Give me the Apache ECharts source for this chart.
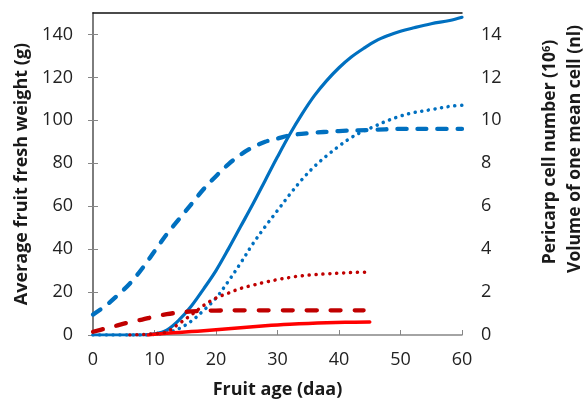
<!DOCTYPE html>
<html>
<head>
<meta charset="utf-8">
<script src="https://cdn.jsdelivr.net/npm/echarts@6/dist/echarts.min.js"></script>
<style>
html,body{margin:0;padding:0;background:#fff;}
#chart{width:588px;height:405px;}
</style>
</head>
<body>
<div id="chart"></div>
<script>
// X axis ticks
var xTicks = [0, 10, 20, 30, 40, 50, 60];
var leftTicks = [0, 20, 40, 60, 80, 100, 120, 140];
var rightTicks = [0, 2, 4, 6, 8, 10, 12, 14];

// Blue fruit weight (g, left axis)
var blueWeightDays = [0, 8, 10, 12, 14, 16, 18, 20, 22, 24, 26, 28, 30, 32, 34, 36, 38, 40, 42, 44, 46, 48, 50, 52, 55, 58, 60];
var blueWeight = [0, 0, 0.5, 2.3, 7, 13.5, 21.5, 30, 40, 50.5, 61, 72, 83, 93.5, 103, 111.5, 118.5, 124.5, 129.5, 133.5, 137, 139.5, 141.5, 143, 145, 146.5, 148];

// Blue cell number (10^6, right axis)
var blueCellNumDays = [0, 2, 4, 6, 8, 10, 12, 14, 16, 18, 20, 22, 24, 26, 28, 30, 32, 35, 40, 45, 50, 55, 60];
var blueCellNum = [0.95, 1.35, 1.85, 2.4, 3.1, 3.9, 4.7, 5.4, 6.1, 6.8, 7.4, 7.95, 8.4, 8.75, 9.0, 9.15, 9.3, 9.4, 9.5, 9.55, 9.6, 9.6, 9.6];

// Blue cell volume (nl, right axis)
var blueCellVolDays = [0, 6, 8, 10, 12, 14, 16, 18, 20, 22, 24, 26, 28, 30, 32, 34, 36, 38, 40, 42, 44, 46, 48, 50, 52, 55, 58, 60];
var blueCellVol = [0, 0, 0, 0.03, 0.1, 0.3, 0.65, 1.15, 1.72, 2.5, 3.35, 4.25, 5.05, 5.8, 6.55, 7.25, 7.85, 8.35, 8.8, 9.2, 9.5, 9.75, 10.0, 10.2, 10.35, 10.5, 10.65, 10.7];

// Red fruit weight (g, left axis)
var redWeightDays = [9, 10, 12, 14, 16, 18, 20, 22, 24, 26, 28, 30, 32, 35, 38, 41, 45];
var redWeight = [0, 0.3, 0.8, 1.2, 1.6, 2.0, 2.4, 2.9, 3.4, 3.8, 4.3, 4.7, 5.0, 5.4, 5.7, 5.9, 6.1];

// Red cell number (10^6, right axis)
var redCellNumDays = [0, 2, 4, 6, 8, 10, 12, 14, 16, 18, 20, 25, 30, 35, 40, 44];
var redCellNum = [0.15, 0.3, 0.45, 0.6, 0.72, 0.86, 0.97, 1.05, 1.1, 1.13, 1.14, 1.15, 1.15, 1.15, 1.15, 1.15];

// Red cell volume (nl, right axis)
var redCellVolDays = [6, 8, 10, 12, 14, 16, 18, 20, 22, 24, 26, 28, 30, 32, 34, 36, 38, 40, 42, 45];
var redCellVol = [0, 0.02, 0.06, 0.15, 0.53, 0.94, 1.38, 1.72, 1.95, 2.17, 2.32, 2.46, 2.58, 2.68, 2.76, 2.81, 2.85, 2.88, 2.91, 2.93];

function pairs(xs, ys) { return xs.map(function (x, i) { return [x, ys[i]]; }); }

var BLUE = '#0070C0', RED = '#FF0000', DARKRED = '#C00000';
var FONT = 'Open Sans';

var chart = echarts.init(document.getElementById('chart'), null, { renderer: 'canvas' });

function line(name, data, yIdx, color, width, type, cap) {
  return {
    name: name, type: 'line', data: data, yAxisIndex: yIdx,
    showSymbol: false, smooth: 0.35,
    lineStyle: { color: color, width: width, type: type, cap: cap || 'round', join: 'round' },
    emphasis: { disabled: true }, animation: false
  };
}

chart.setOption({
  animation: false,
  backgroundColor: '#fff',
  grid: { left: 93, right: 126, top: 13, bottom: 70, containLabel: false },
  xAxis: [{
    type: 'value', min: 0, max: 60, interval: 10,
    name: 'Fruit age (daa)', nameLocation: 'middle', nameGap: 46,
    nameTextStyle: { fontFamily: FONT, fontWeight: 'bold', fontSize: 18, color: '#1a1a1a' },
    axisLine: { lineStyle: { color: '#868686', width: 1.5 } },
    axisTick: { inside: true, length: 5, lineStyle: { color: '#868686' } },
    axisLabel: { fontFamily: FONT, fontSize: 18, color: '#222', margin: 16,
      formatter: function (v) { return xTicks.indexOf(v) >= 0 ? String(v) : ''; } },
    splitLine: { show: false }
  }, {
    type: 'value', min: 0, max: 60, position: 'top',
    axisLine: { show: true, onZero: false, lineStyle: { color: '#111', width: 1.5 } },
    axisTick: { show: false }, axisLabel: { show: false }, splitLine: { show: false }
  }],
  yAxis: [{
    type: 'value', min: 0, max: 150, interval: 20, position: 'left',
    name: 'Average fruit fresh weight (g)', nameLocation: 'middle', nameGap: 61,
    nameTextStyle: { fontFamily: FONT, fontWeight: 'bold', fontSize: 18, color: '#1a1a1a' },
    axisLine: { show: true, lineStyle: { color: '#333', width: 1.5 } },
    axisTick: { inside: true, length: 5, lineStyle: { color: '#868686' } },
    axisLabel: { fontFamily: FONT, fontSize: 18, color: '#222', margin: 20, showMaxLabel: false,
      formatter: function (v) { return leftTicks.indexOf(v) >= 0 ? String(v) : ''; } },
    splitLine: { show: false }
  }, {
    type: 'value', min: 0, max: 15, interval: 2, position: 'right',
    axisLine: { show: true, lineStyle: { color: '#868686', width: 1.5 } },
    axisTick: { inside: true, length: 5, lineStyle: { color: '#868686' } },
    axisLabel: { fontFamily: FONT, fontSize: 18, color: '#222', margin: 19, showMaxLabel: false,
      formatter: function (v) { return rightTicks.indexOf(v) >= 0 ? String(v) : ''; } },
    splitLine: { show: false }
  }],
  graphic: [{
    type: 'text', x: 550, y: 152, rotation: Math.PI / 2,
    style: {
      text: 'Pericarp cell number (10{sup|6})',
      font: 'bold 17.5px "Open Sans"', fill: '#1a1a1a',
      align: 'center', verticalAlign: 'middle', textAlign: 'center', textVerticalAlign: 'middle',
      rich: { sup: { font: 'bold 11px "Open Sans"', fill: '#1a1a1a', verticalAlign: 'top', lineHeight: 12 } }
    }
  }, {
    type: 'text', x: 575, y: 149, rotation: Math.PI / 2,
    style: {
      text: 'Volume of one mean cell (nl)',
      font: 'bold 17.5px "Open Sans"', fill: '#1a1a1a',
      align: 'center', verticalAlign: 'middle', textAlign: 'center', textVerticalAlign: 'middle'
    }
  }],
  series: [
    line('Blue weight', pairs(blueWeightDays, blueWeight), 0, BLUE, 3.2, 'solid'),
    line('Blue cell number', pairs(blueCellNumDays, blueCellNum), 1, BLUE, 4.3, [9, 11]),
    line('Blue cell volume', pairs(blueCellVolDays, blueCellVol), 1, BLUE, 3.5, [0.1, 6.6]),
    line('Red weight', pairs(redWeightDays, redWeight), 0, RED, 3.5, 'solid'),
    line('Red cell number', pairs(redCellNumDays, redCellNum), 1, DARKRED, 4.3, [10, 14]),
    line('Red cell volume', pairs(redCellVolDays, redCellVol), 1, DARKRED, 3.5, [0.1, 6.8])
  ]
});
</script>
</body>
</html>
